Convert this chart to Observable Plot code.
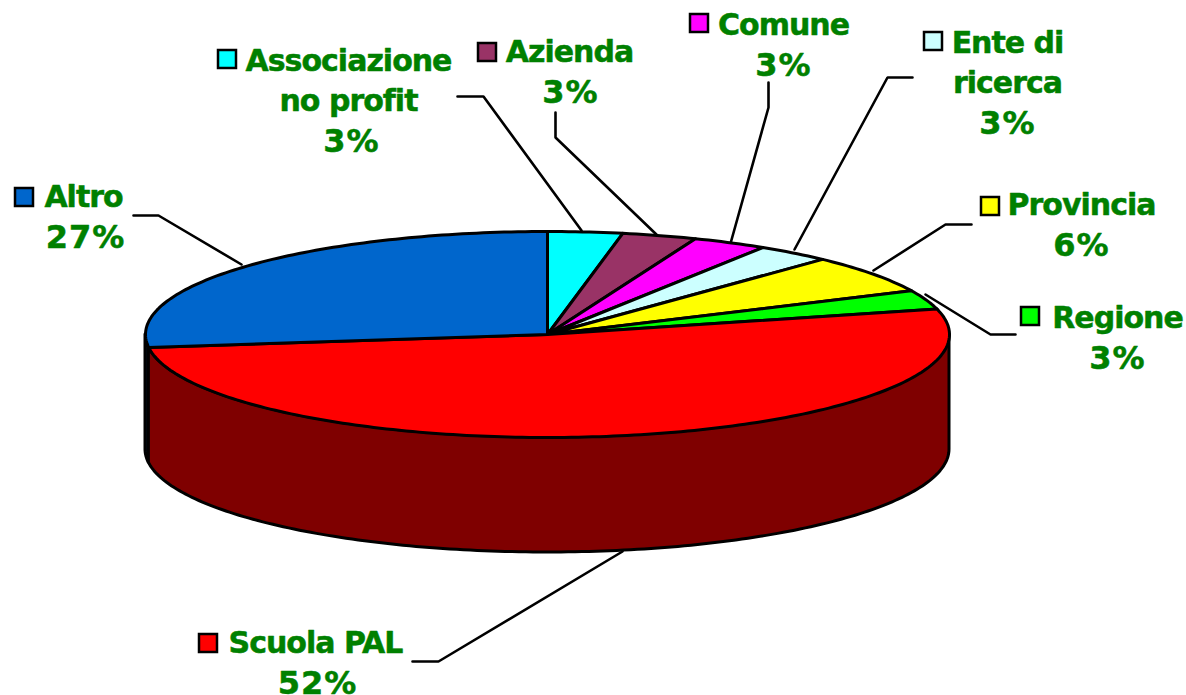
<!DOCTYPE html>
<html>
<head>
<meta charset="utf-8">
<script src="https://cdn.jsdelivr.net/npm/d3@7"></script>
<script src="https://cdn.jsdelivr.net/npm/@observablehq/plot@0.6"></script>
<style>html,body{margin:0;padding:0;background:#fff}svg{display:block}svg text{letter-spacing:-1px}svg g.pct text{letter-spacing:1px}</style>
</head>
<body>
<div id="chart"></div>
<script>
// Chart values (clockwise from twelve o'clock)
const names = ["Associazione no profit","Azienda","Comune","Ente di ricerca","Provincia","Regione","Scuola PAL","Altro"];
const shares = [3,3,3,3,6,3,52,27];
const colors = ["#00FFFF","#993366","#FF00FF","#CCFFFF","#FFFF00","#00FF00","#FF0000","#0066CC"];
const wallColors = ["#007F7F","#4C1933","#7F007F","#667F7F","#7F7F00","#007F00","#7F0000","#00264D"];
const labelLines = ["Associazione\nno profit","Azienda","Comune","Ente di\nricerca","Provincia","Regione","Scuola PAL","Altro"];

// Page layout, in the chart's own pixel-sized units
const pie = {cx:547, cy:334, rx:402, ry:103, depth:115};
const labelAt = [[348,42],[569,33],[783,6],[1007,24],[1081,186],[1117,299],[315,624],[83,178]];
const pctAt = [[351,129],[570,80],[783,53],[1007,111],[1081,233],[1117,346],[317,671],[85,225]];
const swatchAt = [[218,50],[478,43],[690,14],[924,32],[981,197],[1021,307],[199,634],[15,188]];
const leaders = [
  [[457,96],[483,96],[581,230]],
  [[555,112],[555,137],[658,236]],
  [[768,82],[768,107],[730,243]],
  [[912,77],[887,77],[794,249]],
  [[971,224],[945,224],[873,270]],
  [[1015,334],[990,334],[925,294]],
  [[412,661],[438,661],[622,551]],
  [[133,215],[158,215],[241,264]]
];

const total = d3.sum(shares);
const cum = d3.cumsum(shares);
const rim = t => {
  const r = t * Math.PI / 180;
  return {x: pie.cx + pie.rx * Math.sin(r), y: pie.cy - pie.ry * Math.cos(r)};
};
const arcAngles = (a, b) => {
  const out = [];
  for (let t = a; t < b; t += 1) out.push(t);
  out.push(b);
  return out;
};

const slicePts = [], wallPts = [];
names.forEach((name, i) => {
  const a = (i ? cum[i - 1] : 0) / total * 360, b = cum[i] / total * 360;
  slicePts.push({name, x: pie.cx, y: pie.cy});
  arcAngles(a, b).forEach(t => slicePts.push({name, ...rim(t)}));
  const wa = Math.max(a, 90), wb = Math.min(b, 270);
  if (wa < wb) arcAngles(wa, wb).forEach(t => {
    const p = rim(t);
    wallPts.push({name, x: p.x, top: p.y, bottom: p.y + pie.depth, fill: wallColors[i]});
  });
});

const labelRows = names.map((name, i) => ({name, text: labelLines[i], x: labelAt[i][0], y: labelAt[i][1]}));
const pctRows = names.map((name, i) => ({name, text: shares[i] + "%", x: pctAt[i][0], y: pctAt[i][1]}));
const swatchRows = names.map((name, i) => ({name, x1: swatchAt[i][0], y1: swatchAt[i][1], x2: swatchAt[i][0] + 18, y2: swatchAt[i][1] + 18}));
const leaderRows = leaders.flatMap((pts, i) => pts.map(([x, y]) => ({name: names[i], x, y})));

const chart = Plot.plot({
  width: 1186, height: 695,
  margin: 0,
  style: {background: "#fff", fontFamily: "'DejaVu Sans', Verdana, sans-serif"},
  x: {domain: [0, 1186], range: [0, 1186], axis: null},
  y: {domain: [0, 695], range: [0, 695], axis: null},
  color: {domain: names, range: colors},
  marks: [
    Plot.line(leaderRows, {x: "x", y: "y", z: "name", stroke: "#000", strokeWidth: 2.6, strokeLinejoin: "miter"}),
    Plot.area(wallPts, {x1: "x", y1: "top", y2: "bottom", z: "name", fill: "fill", stroke: "#000", strokeWidth: 3, strokeLinejoin: "round"}),
    Plot.line(slicePts, {x: "x", y: "y", z: "name", fill: "name", stroke: "#000", strokeWidth: 3, strokeLinejoin: "round", curve: "linear-closed"}),
    Plot.rect(swatchRows, {x1: "x1", x2: "x2", y1: "y1", y2: "y2", fill: "name", stroke: "#000", strokeWidth: 2.5}),
    Plot.text(labelRows, {x: "x", y: "y", text: "text", fill: "#008000", stroke: "#008000", strokeWidth: 0.5, fontSize: 30, fontWeight: "bold", lineHeight: 1.333, lineAnchor: "top", textAnchor: "middle"}),
    Plot.text(pctRows, {x: "x", y: "y", text: "text", className: "pct", fill: "#008000", stroke: "#008000", strokeWidth: 0.5, fontSize: 32, fontWeight: "bold", lineAnchor: "top", textAnchor: "middle"})
  ]
});
document.getElementById("chart").append(chart);
</script>
</body>
</html>
